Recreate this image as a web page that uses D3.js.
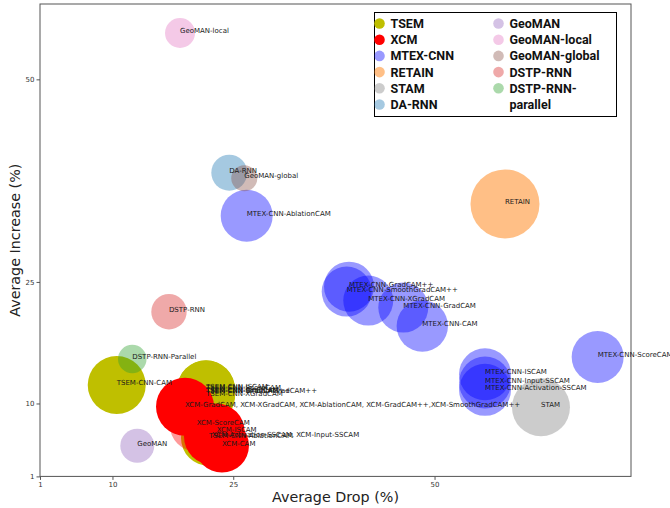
<!DOCTYPE html>
<html>
<head>
<meta charset="utf-8">
<script src="https://cdn.jsdelivr.net/npm/d3@7/dist/d3.min.js"></script>
<style>
  html, body { margin: 0; padding: 0; background: #fff; }
  svg { display: block; }
</style>
</head>
<body>
<svg id="chart" width="670" height="508"></svg>
<script>
// Model families, in drawing / legend order
const models = ["TSEM", "XCM", "MTEX-CNN", "RETAIN", "STAM", "DA-RNN",
                "GeoMAN", "GeoMAN-local", "GeoMAN-global", "DSTP-RNN", "DSTP-RNN-parallel"];
const modelColors = ["#bfbf00", "#ff0000", "#0000ff", "#ff7f0e", "#7f7f7f", "#1f77b4",
                     "#9467bd", "#e377c2", "#8c564b", "#d62728", "#2ca02c"];
const modelAlpha = [1, 1, 0.4, 0.5, 0.4, 0.4, 0.4, 0.4, 0.4, 0.4, 0.4];

// One entry per annotated method
const pointLabels = [
  "TSEM-CNN-CAM", "TSEM-CNN-ISCAM", "TSEM-CNN-ScoreCAM", "TSEM-CNN-GradCAM",
  "TSEM-CNN-SmoothGradCAM++", "TSEM-CNN-GradCAM++", "TSEM-CNN-XGradCAM", "TSEM-CNN-AblationCAM",
  "XCM-GradCAM, XCM-XGradCAM, XCM-AblationCAM, XCM-GradCAM++,XCM-SmoothGradCAM++",
  "XCM-ScoreCAM", "XCM-ISCAM", "XCM-Activation-SSCAM, XCM-Input-SSCAM", "XCM-CAM",
  "MTEX-CNN-GradCAM++", "MTEX-CNN-SmoothGradCAM++", "MTEX-CNN-XGradCAM", "MTEX-CNN-GradCAM",
  "MTEX-CNN-CAM", "MTEX-CNN-AblationCAM", "MTEX-CNN-ScoreCAM", "MTEX-CNN-ISCAM",
  "MTEX-CNN-Input-SSCAM", "MTEX-CNN-Activation-SSCAM",
  "RETAIN", "STAM", "DA-RNN", "GeoMAN", "GeoMAN-local", "GeoMAN-global",
  "DSTP-RNN", "DSTP-RNN-Parallel"
];
const pointModels = [
  "TSEM", "TSEM", "TSEM", "TSEM", "TSEM", "TSEM", "TSEM", "TSEM",
  "XCM", "XCM", "XCM", "XCM", "XCM",
  "MTEX-CNN", "MTEX-CNN", "MTEX-CNN", "MTEX-CNN", "MTEX-CNN", "MTEX-CNN", "MTEX-CNN",
  "MTEX-CNN", "MTEX-CNN", "MTEX-CNN",
  "RETAIN", "STAM", "DA-RNN", "GeoMAN", "GeoMAN-local", "GeoMAN-global",
  "DSTP-RNN", "DSTP-RNN-parallel"
];
const avgDrop = [
  10.53, 21.62, 21.62, 21.62, 21.62, 21.62, 21.62, 21.99,
  19.01, 20.46, 22.94, 22.36, 23.60,
  39.38, 39.09, 41.77, 46.12, 48.48, 26.67, 70.26, 56.27, 56.27, 56.27,
  58.75, 63.22, 24.51, 13.08, 18.39, 26.37, 17.02, 12.46
];
const avgIncrease = [
  12.28, 11.75, 11.72, 11.38, 11.34, 11.30, 10.93, 5.74,
  9.60, 7.39, 6.53, 5.91, 4.80,
  24.42, 23.81, 22.70, 21.83, 19.56, 33.17, 15.74, 13.60, 12.58, 11.68,
  34.62, 9.53, 38.48, 4.79, 55.72, 37.79, 21.33, 15.49
];
const pointSize = [
  841, 841, 841, 841, 841, 841, 841, 784,
  841, 729, 784, 784, 729,
  625, 625, 625, 625, 660, 676, 676, 676, 676, 676,
  1190, 841, 324, 289, 225, 169, 314, 204
];
// Methods drawn with a lighter fill inside their family
const lightPoints = ["XCM-ScoreCAM"];

const xTicks = [1, 10, 25, 50];
const yTicks = [1, 10, 25, 50];

const svg = d3.select("#chart");
const plot = { left: 40, right: 631, top: 4, bottom: 476.4 };

const x = d3.scaleLinear().domain([1, 74.4]).range([plot.left, plot.right]);
const y = d3.scaleLinear().domain([1, 59.3]).range([plot.bottom, plot.top]);
const r = d3.scaleSqrt().domain([0, 1000]).range([0, Math.sqrt(1000)]);
const colorOf = d3.scaleOrdinal().domain(models).range(modelColors);
const alphaOf = d3.scaleOrdinal().domain(models).range(modelAlpha);

const points = pointLabels.map((label, i) => ({
  label, model: pointModels[i], drop: avgDrop[i], inc: avgIncrease[i], size: pointSize[i]
}));
points.sort((a, b) => models.indexOf(a.model) - models.indexOf(b.model));

const clipId = "plot-clip";
svg.append("defs").append("clipPath").attr("id", clipId)
  .append("rect").attr("x", plot.left).attr("y", plot.top)
  .attr("width", plot.right - plot.left).attr("height", plot.bottom - plot.top);

// Bubbles
const bubbles = svg.append("g").attr("clip-path", `url(#${clipId})`);
bubbles.selectAll("circle").data(points).join("circle")
  .attr("cx", d => x(d.drop))
  .attr("cy", d => y(d.inc))
  .attr("r", d => r(d.size))
  .attr("fill", d => colorOf(d.model))
  .attr("fill-opacity", d => lightPoints.includes(d.label) ? 0.4 : alphaOf(d.model));

// Axes
const axisColor = "#555";
const xAxis = svg.append("g").attr("transform", `translate(0,${plot.bottom})`)
  .call(d3.axisBottom(x).tickValues(xTicks).tickSize(3.5).tickPadding(2).tickFormat(d3.format("d")));
const yAxis = svg.append("g").attr("transform", `translate(${plot.left},0)`)
  .call(d3.axisLeft(y).tickValues(yTicks).tickSize(3.5).tickPadding(2).tickFormat(d3.format("d")));
[xAxis, yAxis].forEach(g => {
  g.select(".domain").remove();
  g.selectAll(".tick line").attr("stroke", axisColor);
  g.selectAll(".tick text").attr("font-family", "'DejaVu Sans', sans-serif")
    .attr("font-size", 7).attr("fill", "#333");
});

// Frame
svg.append("rect")
  .attr("x", plot.left).attr("y", plot.top)
  .attr("width", plot.right - plot.left).attr("height", plot.bottom - plot.top)
  .attr("fill", "none").attr("stroke", axisColor).attr("stroke-width", 1);

// Method annotations, drawn over everything and free to run past the frame
svg.append("g")
  .selectAll("text").data(points).join("text")
  .attr("x", d => x(d.drop))
  .attr("y", d => y(d.inc))
  .attr("font-family", "'DejaVu Sans', sans-serif")
  .attr("font-size", 7)
  .attr("fill", "#1a1a1a")
  .text(d => d.label);

// Axis titles
svg.append("text")
  .attr("x", (plot.left + plot.right) / 2).attr("y", 502)
  .attr("text-anchor", "middle")
  .attr("font-family", "'DejaVu Sans', sans-serif").attr("font-size", 14.3)
  .attr("fill", "#222")
  .text("Average Drop (%)");
svg.append("text")
  .attr("transform", `translate(20,${(plot.top + plot.bottom) / 2}) rotate(-90)`)
  .attr("text-anchor", "middle")
  .attr("font-family", "'DejaVu Sans', sans-serif").attr("font-size", 14.3)
  .attr("fill", "#222")
  .text("Average Increase (%)");

// Legend
const legend = svg.append("g");
legend.append("rect")
  .attr("x", 374.5).attr("y", 12.5).attr("width", 242).attr("height", 104)
  .attr("fill", "#fff").attr("stroke", "#000").attr("stroke-width", 1);
const rowsPerCol = 6;
const legendNames = models.map(m => m === "DSTP-RNN-parallel" ? ["DSTP-RNN-", "parallel"] : [m]);
models.forEach((m, i) => {
  const col = Math.floor(i / rowsPerCol), row = i % rowsPerCol;
  const mx = col === 0 ? 379.5 : 498.5;
  const my = 23.5 + row * 16.2;
  legend.append("circle")
    .attr("cx", mx).attr("cy", my).attr("r", 5.3)
    .attr("fill", colorOf(m)).attr("fill-opacity", alphaOf(m));
  const t = legend.append("text")
    .attr("x", mx + 11).attr("y", my + 4.4)
    .attr("font-family", "Roboto, 'Liberation Sans', sans-serif")
    .attr("font-weight", 700).attr("font-size", 12.5).attr("fill", "#111");
  legendNames[i].forEach((line, k) => {
    t.append("tspan").attr("x", mx + 11).attr("dy", k === 0 ? 0 : 16.2).text(line);
  });
});
</script>
</body>
</html>
